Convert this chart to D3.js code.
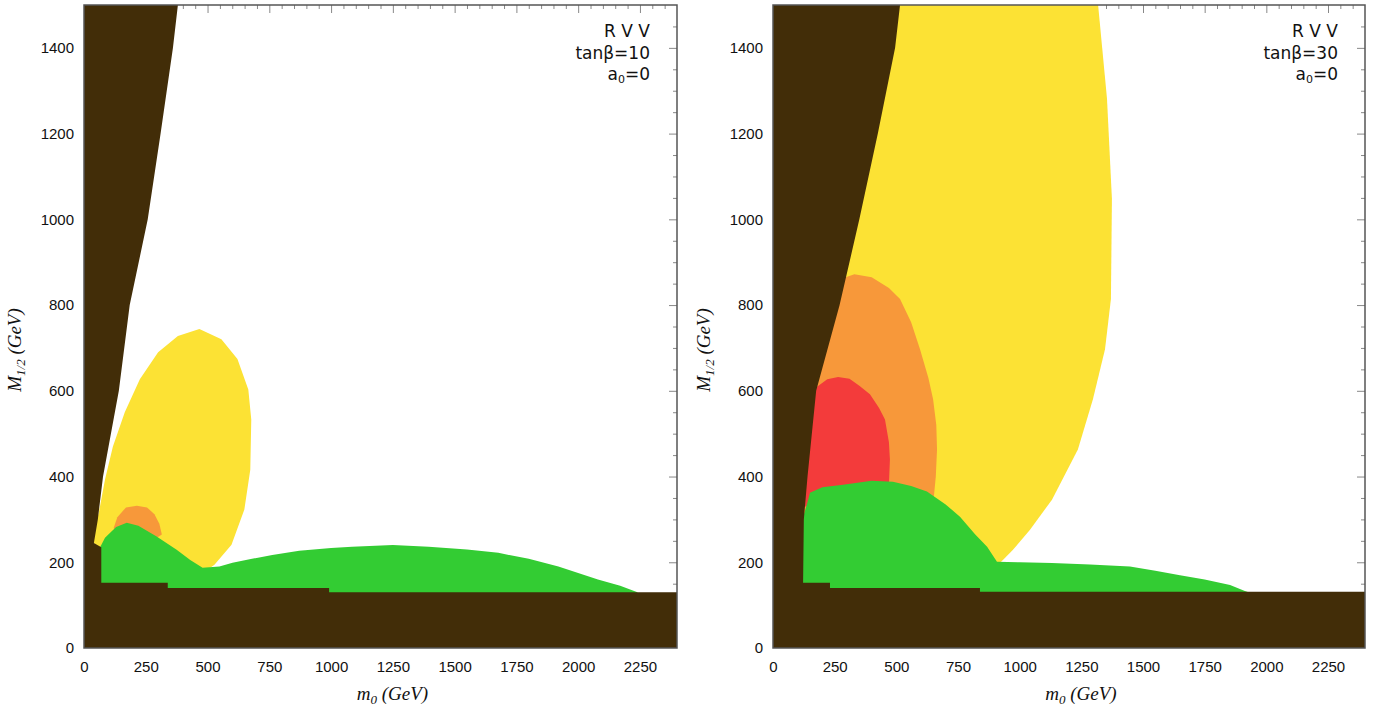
<!DOCTYPE html>
<html lang="en">
<head>
<meta charset="utf-8"/>
<script src="https://d3js.org/d3.v7.min.js"></script>
<style>
  body { margin: 0; background: #fff; }
  .tick text { font-family: "Liberation Sans", Arial, sans-serif; }
</style>
</head>
<body>
<div id="chart"></div>
<script>
// tick labels
var xTicks = [0, 250, 500, 750, 1000, 1250, 1500, 1750, 2000, 2250];
var yTicks = [0, 200, 400, 600, 800, 1000, 1200, 1400];

// tan(beta) = 10 panel, regions as [m0, M1/2] in GeV
var brown10 = [[0,0],[0,1500],[380,1500],[360,1400],[310,1200],[258,1000],[185,800],[141,600],[77,400],[56,300],[40,245],[70,235],[70,152],[339,152],[339,140],[992,140],[992,130],[2400,130],[2400,0]];
var yellow10 = [[30,253],[60,316],[85,393],[117,470],[165,550],[226,627],[300,690],[380,728],[467,744],[556,720],[621,674],[665,603],[677,533],[673,416],[649,323],[597,241],[528,194],[488,178],[300,200],[100,200]];
var orange10 = [[120,280],[135,305],[170,328],[214,332],[255,328],[285,312],[305,290],[315,265],[250,240],[150,250]];
var green10 = [[60,229],[85,257],[130,282],[173,292],[220,285],[294,260],[375,229],[430,205],[480,187],[548,190],[601,199],[680,208],[762,217],[871,227],[1000,233],[1085,236],[1250,240],[1395,236],[1550,230],[1677,222],[1800,208],[1920,190],[2000,175],[2080,160],[2170,145],[2240,130],[2240,100],[60,100]];

// tan(beta) = 30 panel
var brown30 = [[0,0],[0,1500],[515,1500],[495,1400],[425,1200],[350,1000],[270,800],[175,600],[140,400],[125,300],[122,152],[231,152],[231,140],[839,140],[839,131],[2400,131],[2400,0]];
var yellow30 = [[100,1560],[1300,1560],[1318,1500],[1354,1282],[1374,1048],[1370,814],[1346,697],[1297,580],[1236,463],[1131,346],[1042,276],[973,229],[921,199],[700,200],[100,300]];
var orange30 = [[100,650],[150,760],[230,820],[280,862],[330,872],[400,865],[470,840],[515,814],[560,760],[596,697],[630,630],[649,580],[662,520],[665,463],[660,400],[650,340],[500,300],[100,300]];
var red30 = [[100,560],[150,590],[180,610],[220,627],[264,632],[310,628],[350,612],[393,592],[430,560],[454,533],[470,480],[474,440],[470,380],[400,330],[100,330]];
var green30 = [[110,283],[135,330],[150,362],[200,375],[284,381],[400,390],[486,388],[560,378],[624,365],[700,335],[758,306],[820,265],[868,236],[908,201],[1000,200],[1131,198],[1285,195],[1447,190],[1550,180],[1650,170],[1750,160],[1853,147],[1913,133],[1940,128],[1940,100],[110,100]];

var colors = { brown: "#422d08", yellow: "#fce234", orange: "#f7983a", red: "#f33b3b", green: "#33cc33" };

var svg = d3.select("#chart").append("svg")
    .attr("width", 1376)
    .attr("height", 713);

function drawPanel(id, left, right, regions, tanb) {
    var top = 5, bottom = 648;
    var x = d3.scaleLinear().domain([0, 2400]).range([left, right]);
    var y = d3.scaleLinear().domain([0, 1500]).range([bottom, top]);

    var g = svg.append("g");

    g.append("clipPath").attr("id", "clip" + id)
      .append("rect")
        .attr("x", left).attr("y", top)
        .attr("width", right - left).attr("height", bottom - top);

    // inner ticks on top and right, drawn under the regions
    g.append("g")
        .attr("transform", "translate(0," + top + ")")
        .call(d3.axisTop(x).tickValues(d3.range(0, 2400, 50)).tickSize(-4).tickFormat(""))
        .call(function (a) { a.select(".domain").remove(); })
        .selectAll("line").attr("stroke", "#888")
        .attr("y2", function (d) { return d % 250 === 0 ? 8 : 4; });
    g.append("g")
        .attr("transform", "translate(" + right + ",0)")
        .call(d3.axisRight(y).tickValues(d3.range(50, 1500, 50)).tickSize(-4).tickFormat(""))
        .call(function (a) { a.select(".domain").remove(); })
        .selectAll("line").attr("stroke", "#888")
        .attr("x2", function (d) { return d % 200 === 0 ? -8 : -4; });

    var line = d3.line()
        .x(function (d) { return x(d[0]); })
        .y(function (d) { return y(d[1]); })
        .curve(d3.curveLinearClosed);

    var layer = g.append("g").attr("clip-path", "url(#clip" + id + ")");
    regions.forEach(function (r) {
        layer.append("path")
            .attr("d", line(r.pts))
            .attr("fill", colors[r.c]);
    });

    // frame
    g.append("rect")
        .attr("x", left).attr("y", top)
        .attr("width", right - left).attr("height", bottom - top)
        .attr("fill", "none").attr("stroke", "#555").attr("stroke-width", 1.5);

    // tick labels
    g.append("g")
        .attr("transform", "translate(0," + bottom + ")")
        .call(d3.axisBottom(x).tickValues(xTicks).tickFormat(d3.format("d")).tickSize(0).tickPadding(13))
        .call(function (a) { a.select(".domain").remove(); })
        .selectAll("text").attr("font-size", 15).attr("fill", "#111");
    g.append("g")
        .attr("transform", "translate(" + left + ",0)")
        .call(d3.axisLeft(y).tickValues(yTicks).tickFormat(d3.format("d")).tickSize(0).tickPadding(10))
        .call(function (a) { a.select(".domain").remove(); })
        .selectAll("text").attr("font-size", 15).attr("fill", "#111");

    // annotation
    var ann = g.append("g")
        .attr("font-family", "'DejaVu Sans', sans-serif")
        .attr("font-size", 17)
        .attr("text-anchor", "end")
        .attr("fill", "#111");
    var ax = right - 27;
    ann.append("text").attr("x", ax).attr("y", 37).text("R V V");
    ann.append("text").attr("x", ax).attr("y", 59).text("tanβ=" + tanb);
    var a0 = ann.append("text").attr("x", ax).attr("y", 80);
    a0.append("tspan").text("a");
    a0.append("tspan").attr("font-size", 11).attr("dy", 3).text("0");
    a0.append("tspan").attr("dy", -3).text("=0");

    // axis titles
    var xt = g.append("text")
        .attr("x", (left + right) / 2 + 12).attr("y", 700)
        .attr("text-anchor", "middle")
        .attr("font-family", "'Liberation Serif', serif")
        .attr("font-style", "italic")
        .attr("font-size", 19)
        .attr("fill", "#111");
    xt.append("tspan").text("m");
    xt.append("tspan").attr("font-size", 13).attr("dy", 4).text("0");
    xt.append("tspan").attr("dy", -4).text(" (GeV)");

    var yt = g.append("text")
        .attr("transform", "translate(" + (left - 63) + ",350) rotate(-90)")
        .attr("text-anchor", "middle")
        .attr("font-family", "'Liberation Serif', serif")
        .attr("font-style", "italic")
        .attr("font-size", 19)
        .attr("fill", "#111");
    yt.append("tspan").text("M");
    yt.append("tspan").attr("font-size", 13).attr("dy", 4).text("1/2");
    yt.append("tspan").attr("dy", -4).text(" (GeV)");
}

drawPanel("a", 84, 677, [
    { c: "yellow", pts: yellow10 },
    { c: "orange", pts: orange10 },
    { c: "green", pts: green10 },
    { c: "brown", pts: brown10 }
], 10);

drawPanel("b", 773, 1365, [
    { c: "yellow", pts: yellow30 },
    { c: "orange", pts: orange30 },
    { c: "red", pts: red30 },
    { c: "green", pts: green30 },
    { c: "brown", pts: brown30 }
], 30);
</script>
</body>
</html>
